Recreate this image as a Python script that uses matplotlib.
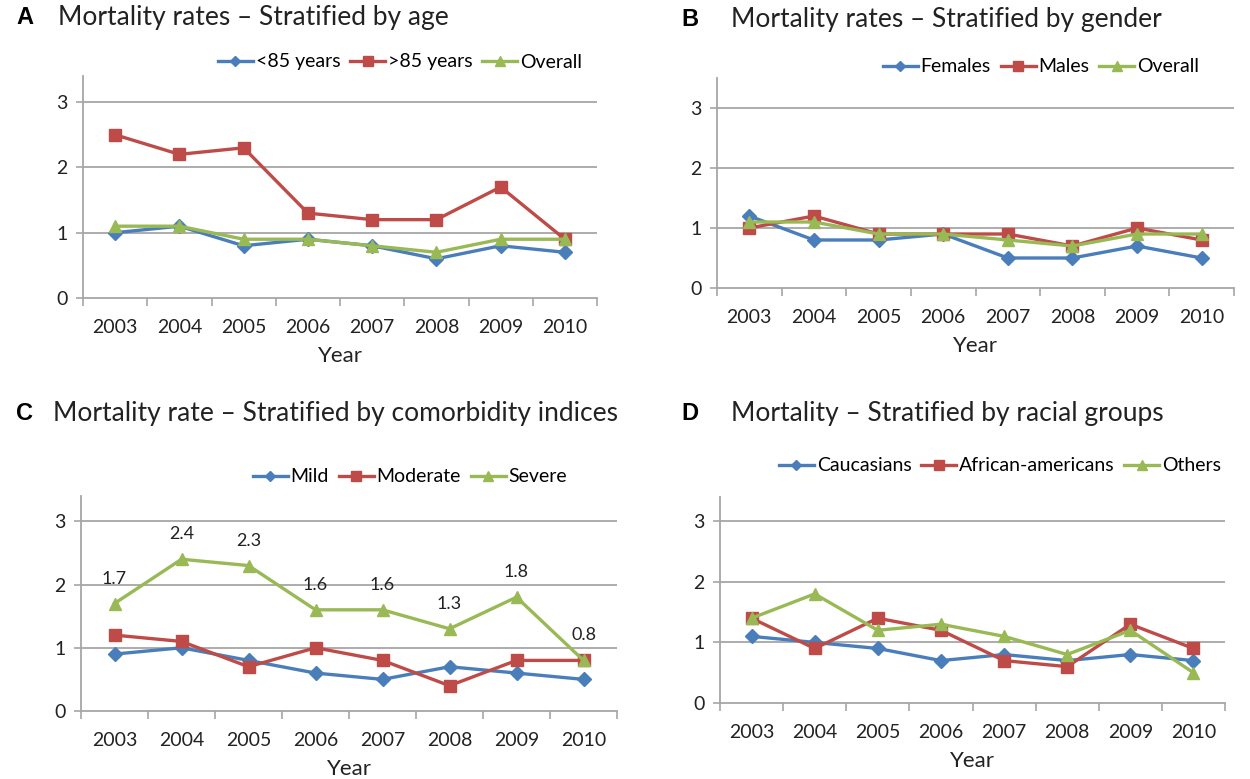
import matplotlib
matplotlib.use("Agg")
import matplotlib.pyplot as plt
import numpy as np

plt.rcParams['font.family'] = ['Lato', 'DejaVu Sans']

years = ['2003', '2004', '2005', '2006', '2007', '2008', '2009', '2010']

# A - stratified by age
age_under85 = [1.0, 1.1, 0.8, 0.9, 0.8, 0.6, 0.8, 0.7]
age_over85 = [2.5, 2.2, 2.3, 1.3, 1.2, 1.2, 1.7, 0.9]
age_overall = [1.1, 1.1, 0.9, 0.9, 0.8, 0.7, 0.9, 0.9]

# B - stratified by gender
females = [1.2, 0.8, 0.8, 0.9, 0.5, 0.5, 0.7, 0.5]
males = [1.0, 1.2, 0.9, 0.9, 0.9, 0.7, 1.0, 0.8]
gender_overall = [1.1, 1.1, 0.9, 0.9, 0.8, 0.7, 0.9, 0.9]

# C - stratified by comorbidity
mild = [0.9, 1.0, 0.8, 0.6, 0.5, 0.7, 0.6, 0.5]
moderate = [1.2, 1.1, 0.7, 1.0, 0.8, 0.4, 0.8, 0.8]
severe = [1.7, 2.4, 2.3, 1.6, 1.6, 1.3, 1.8, 0.8]

# D - stratified by race
caucasians = [1.1, 1.0, 0.9, 0.7, 0.8, 0.7, 0.8, 0.7]
african_americans = [1.4, 0.9, 1.4, 1.2, 0.7, 0.6, 1.3, 0.9]
others = [1.4, 1.8, 1.2, 1.3, 1.1, 0.8, 1.2, 0.5]

BLUE = '#4a7ebb'
RED = '#be4b48'
GREEN = '#98b954'
GRID = '#a6a6a6'

W, H = 1250, 779
fig = plt.figure(figsize=(W / 100, H / 100), dpi=100)


def px_axes(left, right, bottom, top):
    return fig.add_axes([left / W, 1 - bottom / H, (right - left) / W, (bottom - top) / H])


def style_panel(ax, ymax):
    x = np.arange(len(years))
    ax.set_xlim(-0.5, len(years) - 0.5)
    ax.set_ylim(0, ymax)
    for s in ['top', 'right']:
        ax.spines[s].set_visible(False)
    for s in ['left', 'bottom']:
        ax.spines[s].set_color(GRID)
        ax.spines[s].set_linewidth(1.3)
    ax.set_yticks([0, 1, 2, 3])
    ax.set_yticklabels(['0', '1', '2', '3'], fontsize=14, color='#222222')
    ax.tick_params(axis='y', length=5, width=1.2, color=GRID, pad=6)
    ax.set_xticks(np.arange(-0.5, len(years)), minor=False)
    ax.set_xticklabels([])
    ax.set_xticks(x, minor=True)
    ax.set_xticklabels(years, minor=True, fontsize=14, color='#222222')
    ax.tick_params(axis='x', which='major', length=6, width=1.2, color=GRID)
    ax.tick_params(axis='x', which='minor', length=0, pad=15)
    for v in [1, 2, 3]:
        ax.axhline(v, color=GRID, lw=1.3, zorder=0)
    ax.set_xlabel('Year', fontsize=16, color='#222222', labelpad=7)


def plot_series(ax, s1, s2, s3):
    x = np.arange(len(years))
    h1, = ax.plot(x, s1, color=BLUE, lw=2.4, marker='D', ms=7, zorder=3)
    h2, = ax.plot(x, s2, color=RED, lw=2.4, marker='s', ms=9, zorder=3)
    h3, = ax.plot(x, s3, color=GREEN, lw=2.4, marker='^', ms=9, zorder=3)
    return [h1, h2, h3]


def add_legend(handles, labels, cx, cy):
    fig.legend(handles, labels, loc='center', bbox_to_anchor=(cx / W, 1 - cy / H),
               ncol=3, frameon=False, fontsize=14, handlelength=1.8,
               handletextpad=0.15, columnspacing=0.5, markerscale=0.8)


def add_title(letter, title, lx, tx, y):
    fig.text(lx / W, 1 - y / H, letter, fontsize=17, fontweight='bold',
             family='Liberation Sans', va='center', ha='left')
    fig.text(tx / W, 1 - y / H, title, fontsize=19, va='center', ha='left', color='#222222')


# Panel A
axA = px_axes(83, 597, 298, 76)
style_panel(axA, 3.4)
hA = plot_series(axA, age_under85, age_over85, age_overall)
add_legend(hA, ['<85 years', '>85 years', 'Overall'], 400, 62)
add_title('A', 'Mortality rates \u2013 Stratified by age', 16, 58, 18)

# Panel B
axB = px_axes(717, 1234, 288, 78)
style_panel(axB, 3.5)
hB = plot_series(axB, females, males, gender_overall)
add_legend(hB, ['Females', 'Males', 'Overall'], 1041, 67)
add_title('B', 'Mortality rates \u2013 Stratified by gender', 681, 731, 20)

# Panel C
axC = px_axes(81, 617, 711, 496)
style_panel(axC, 3.4)
hC = plot_series(axC, mild, moderate, severe)
for i, v in enumerate(severe):
    axC.annotate(f'{v:.1f}', (i, v), xytext=(0, 18), textcoords='offset points',
                 ha='center', va='center', fontsize=13, color='#222222')
add_legend(hC, ['Mild', 'Moderate', 'Severe'], 410, 477)
add_title('C', 'Mortality rate \u2013 Stratified by comorbidity indices', 16, 53, 413)

# Panel D
axD = px_axes(720, 1225, 703, 497)
style_panel(axD, 3.4)
hD = plot_series(axD, caucasians, african_americans, others)
add_legend(hD, ['Caucasians', 'African-americans', 'Others'], 1000, 466)
add_title('D', 'Mortality \u2013 Stratified by racial groups', 681, 731, 413)

fig.savefig('out.png', dpi=100)
